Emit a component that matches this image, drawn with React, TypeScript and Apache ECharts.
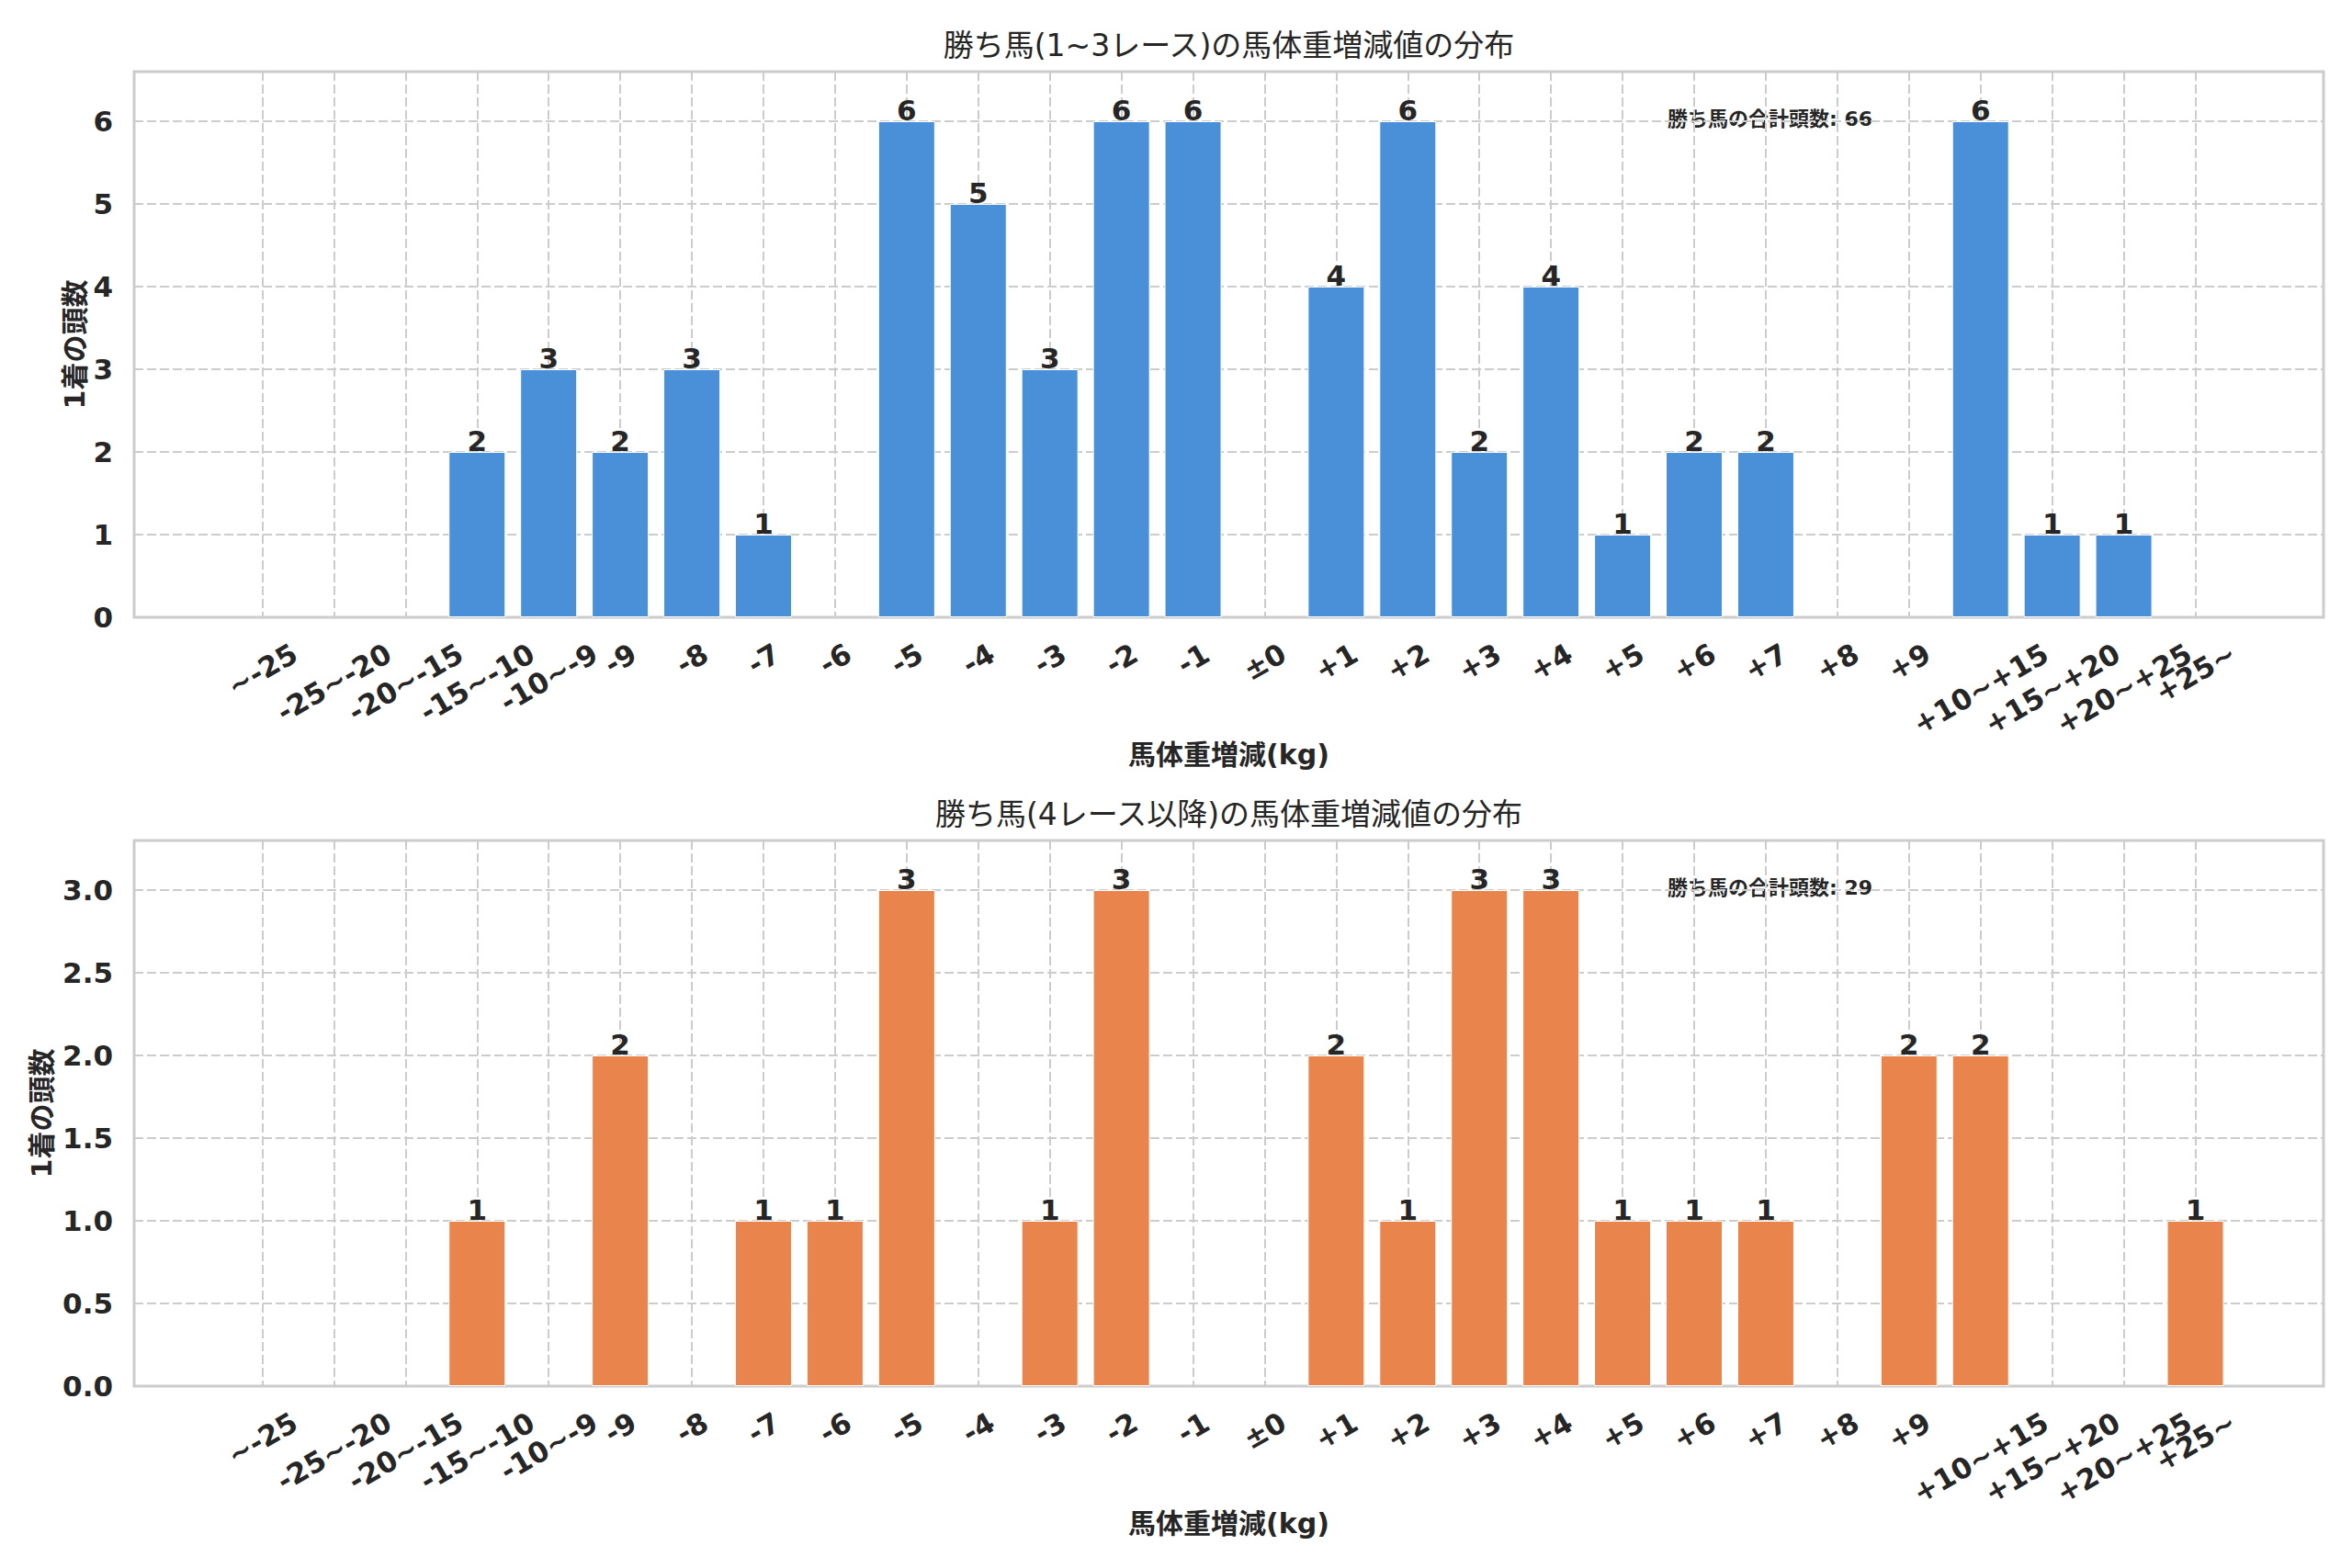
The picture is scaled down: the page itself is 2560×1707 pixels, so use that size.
import { useEffect, useRef } from "react";
import * as echarts from "echarts";

// 馬体重増減の区分 (x軸)
const weightBins = [
    "~-25", "-25~-20", "-20~-15", "-15~-10", "-10~-9",
    "-9", "-8", "-7", "-6", "-5", "-4", "-3", "-2", "-1",
    "±0",
    "+1", "+2", "+3", "+4", "+5", "+6", "+7", "+8", "+9",
    "+10~+15", "+15~+20", "+20~+25", "+25~",
];

// 1着の頭数
const earlyWins = [0, 0, 0, 2, 3, 2, 3, 1, 0, 6, 5, 3, 6, 6, 0, 4, 6, 2, 4, 1, 2, 2, 0, 0, 6, 1, 1, 0];
const laterWins = [0, 0, 0, 1, 0, 2, 0, 1, 1, 3, 0, 1, 3, 0, 0, 2, 1, 3, 3, 1, 1, 1, 0, 2, 2, 0, 0, 1];

const chartTitles = ["勝ち馬(1~3レース)の馬体重増減値の分布", "勝ち馬(4レース以降)の馬体重増減値の分布"];
const xName = "馬体重増減(kg)";
const yName = "1着の頭数";
const totalName = "勝ち馬の合計頭数";

const FONT = "'DejaVu Sans', 'Noto Sans CJK JP', sans-serif";
const INK = "#262626";
const GRID_C = "#cccccc";
const TICK_SIZE = 31;
const LINE_H = 36;
const LABEL_PAD = 21;

const X_MIN = -1.79;
const X_MAX = 28.79;
const GRID_LEFT = 146;
const GRID_W = 2383;
const GRID_H = 594;
const TOPS = [78, 915];
const CENTER_X = GRID_LEFT + GRID_W / 2;

const sum = (a: number[]) => a.reduce((s, v) => s + v, 0);

export default function App() {
    const chartRef = useRef<HTMLDivElement | null>(null);

    useEffect(() => {
        if (!chartRef.current) return;
        const chart = echarts.init(chartRef.current, undefined, { renderer: "svg" });

        // matplotlib 風 (rotation=30, ha=center) に見せるため、ラベルごとに余白を計算
        const ctx = document.createElement("canvas").getContext("2d")!;
        ctx.font = `bold ${TICK_SIZE}px "DejaVu Sans"`;
        const rich: Record<string, any> = {};
        weightBins.forEach((t, i) => {
            const w = ctx.measureText(t).width;
            const boxH = 0.5 * w + 0.866 * LINE_H;
            const off = LABEL_PAD + boxH / 2;
            rich["l" + i] = {
                fontSize: TICK_SIZE,
                fontWeight: "bold",
                fontFamily: FONT,
                color: INK,
                lineHeight: LINE_H,
                padding: [1.732 * off, off, 0, 0],
            };
        });
        const ticks = weightBins.map((_, i) => i);

        // ラベル専用のカテゴリ軸グリッド (目盛 0 と 27 の位置に合わせる)
        const unit = GRID_W / (X_MAX - X_MIN);
        const labelLeft = GRID_LEFT + (0 - X_MIN) * unit;
        const labelWidth = (weightBins.length - 1) * unit;

        const splitLine = { show: true, lineStyle: { color: GRID_C, width: 2, type: [10, 4] as number[] } };
        const nameStyle = { fontSize: 30, fontWeight: "bold" as const, color: INK, fontFamily: FONT };

        const panels = [
            { values: earlyWins, color: "#4a90d9", max: 6.6, interval: 1, nameGap: 50, fmt: (v: number) => (Number.isInteger(v) ? String(v) : "") },
            { values: laterWins, color: "#e8844c", max: 3.3, interval: 0.5, nameGap: 86, fmt: (v: number) => (Math.abs(v * 2 - Math.round(v * 2)) < 1e-9 ? v.toFixed(1) : "") },
        ];

        const option: echarts.EChartsOption = {
            animation: false,
            backgroundColor: "#ffffff",
            grid: [
                ...TOPS.map((top) => ({
                    left: GRID_LEFT,
                    top,
                    width: GRID_W,
                    height: GRID_H,
                    show: true,
                    borderColor: GRID_C,
                    borderWidth: 3,
                    backgroundColor: "transparent",
                    containLabel: false,
                    outerBoundsMode: "none",
                })),
                ...TOPS.map((top) => ({
                    left: labelLeft,
                    top,
                    width: labelWidth,
                    height: GRID_H,
                    show: false,
                    containLabel: false,
                    outerBoundsMode: "none",
                })),
            ] as any,
            xAxis: [
                ...panels.map((_, gi) => ({
                    type: "value",
                    gridIndex: gi,
                    min: X_MIN,
                    max: X_MAX,
                    name: xName,
                    nameLocation: "middle",
                    nameGap: 134,
                    nameMoveOverlap: false,
                    nameTextStyle: nameStyle,
                    axisLine: { show: false, onZero: false },
                    axisTick: { show: false, customValues: ticks },
                    splitLine,
                    axisLabel: { show: false },
                })),
                ...panels.map((_, gi) => ({
                    type: "category",
                    gridIndex: gi + 2,
                    data: weightBins,
                    boundaryGap: false,
                    axisLine: { show: false, onZero: false },
                    axisTick: { show: false },
                    splitLine: { show: false },
                    axisLabel: {
                        interval: 0,
                        rotate: 30,
                        align: "center",
                        verticalAlign: "middle",
                        margin: 0,
                        hideOverlap: false,
                        formatter: (v: string, i: number) => `{l${i}|${v}}`,
                        rich,
                    },
                })),
            ] as any,
            yAxis: [
                ...panels.map((p, gi) => ({
                    type: "value",
                    gridIndex: gi,
                    min: 0,
                    max: p.max,
                    interval: p.interval,
                    name: yName,
                    nameLocation: "middle",
                    nameRotate: 90,
                    nameGap: p.nameGap,
                    nameMoveOverlap: false,
                    nameTextStyle: nameStyle,
                    axisLine: { show: false },
                    axisTick: { show: false },
                    splitLine,
                    axisLabel: {
                        margin: 23,
                        fontSize: TICK_SIZE,
                        fontWeight: "bold",
                        color: INK,
                        fontFamily: FONT,
                        showMaxLabel: true,
                        formatter: p.fmt,
                    },
                })),
                ...panels.map((p, gi) => ({
                    type: "value",
                    gridIndex: gi + 2,
                    min: 0,
                    max: p.max,
                    show: false,
                })),
            ] as any,
            series: panels.map((p, gi) => ({
                type: "bar",
                xAxisIndex: gi,
                yAxisIndex: gi,
                barWidth: 62,
                data: p.values.map((v, i) => [i, v]).filter((d) => d[1] > 0),
                itemStyle: { color: p.color, borderColor: "#ffffff", borderWidth: 1 },
                label: {
                    show: true,
                    position: "top",
                    distance: -3,
                    fontSize: TICK_SIZE,
                    fontWeight: "bold",
                    color: INK,
                    fontFamily: FONT,
                    formatter: (d: any) => String(d.value[1]),
                },
            })) as any,
            graphic: [
                ...chartTitles.map((t, gi) => ({
                    type: "text",
                    x: CENTER_X,
                    y: TOPS[gi] - 29,
                    style: { text: t, align: "center", verticalAlign: "middle", fontSize: 33, fontFamily: FONT, fill: INK },
                })),
                ...panels.map((p, gi) => ({
                    type: "text",
                    x: 1815,
                    y: TOPS[gi] + 51,
                    style: {
                        text: `${totalName}: ${sum(p.values)}`,
                        align: "left",
                        verticalAlign: "middle",
                        fontSize: 22,
                        fontWeight: "bold",
                        fontFamily: FONT,
                        fill: INK,
                    },
                })),
            ] as any,
        };

        chart.setOption(option);
        return () => chart.dispose();
    }, []);

    return <div ref={chartRef} style={{ position: "absolute", left: 0, top: 0, width: 2560, height: 1707 }} />;
}
